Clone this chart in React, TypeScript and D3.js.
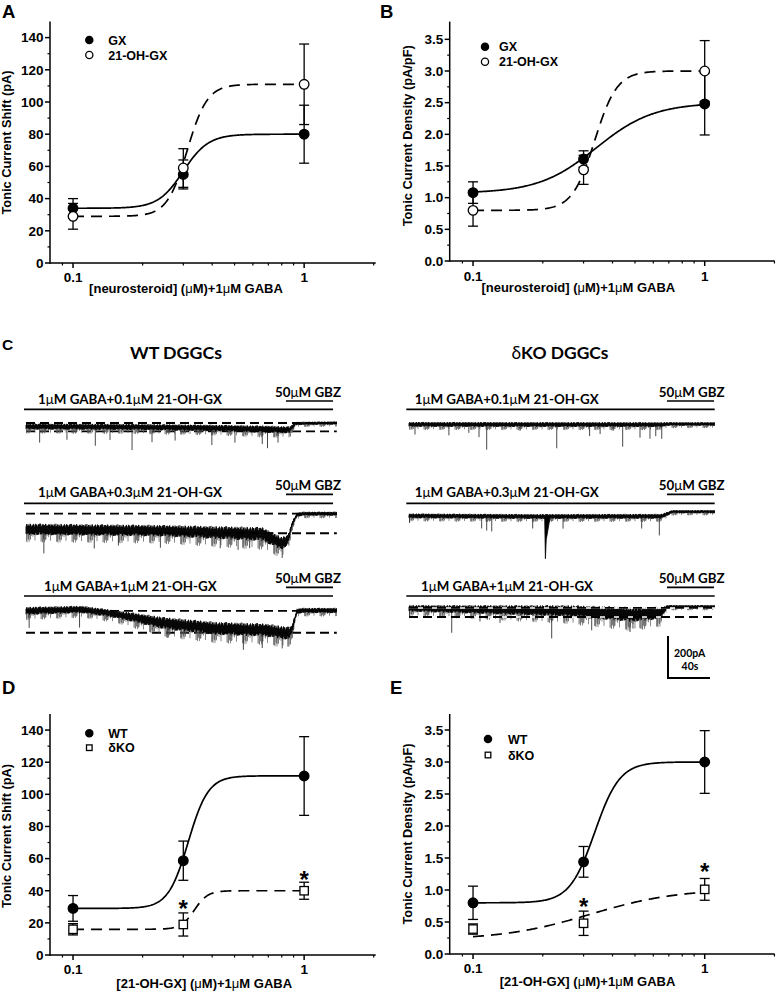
import React from "react";
import * as d3 from "d3";

// ---------------- dose-response data ----------------
const CONC = [0.1, 0.3, 1];

const A_GX_MEAN = [34, 55, 80];
const A_GX_SEM = [6, 9, 18];
const A_OH_MEAN = [29, 59, 111];
const A_OH_SEM = [8, 12, 25];
const A_GX_FIT = [34, 80, 0.3, 8]; // bottom, top, EC50, nH
const A_OH_FIT = [29, 111, 0.312, 10];

const B_GX_MEAN = [1.08, 1.61, 2.48];
const B_GX_SEM = [0.17, 0.13, 0.49];
const B_OH_MEAN = [0.8, 1.44, 3.0];
const B_OH_SEM = [0.25, 0.23, 0.48];
const B_GX_FIT = [1.07, 2.5, 0.34, 3.5];
const B_OH_FIT = [0.8, 3.0, 0.335, 9];

const D_WT_MEAN = [29, 58.7, 111.4];
const D_WT_SEM = [8, 12.2, 24.5];
const D_KO_MEAN = [16, 19, 40];
const D_KO_SEM = [3.5, 7.2, 5.3];
const D_WT_FIT = [29, 111.5, 0.315, 10];
const D_KO_FIT = [16, 40, 0.335, 15];

const E_WT_MEAN = [0.8, 1.44, 3.0];
const E_WT_SEM = [0.26, 0.24, 0.49];
const E_KO_MEAN = [0.39, 0.48, 1.01];
const E_KO_SEM = [0.08, 0.19, 0.17];
const E_WT_FIT = [0.8, 3.0, 0.335, 8];
const E_KO_FIT = [0.22, 1.02, 0.32, 2.3];

const SIG_INDEX = [1, 2]; // asterisks on KO at 0.3 and 1 uM

const SHIFT_TICKS = [0, 20, 40, 60, 80, 100, 120, 140];
const SHIFT_MINOR = [10, 30, 50, 70, 90, 110, 130];
const DENS_TICKS = [0, 0.5, 1, 1.5, 2, 2.5, 3, 3.5];
const DENS_MINOR = [0.25, 0.75, 1.25, 1.75, 2.25, 2.75, 3.25];
const X_TICKS = [0.1, 1];
const X_MINOR = [0.09, 0.2, 0.3, 0.4, 0.5, 0.6, 0.7, 0.8, 0.9, 2];

// ---------------- trace data (time s, current pA, noise pA) ----------------
const TRACE_CONC = ["0.1", "0.3", "1"];

const WT1_BASE = [[0, -17, 15], [100, -19, 15], [180, -24, 16], [230, -30, 18], [251, -33, 17], [257, -2, 8], [296, 0, 8]];
const WT1_SPIKES = [[13, 76], [39, 62], [66, 90], [80, 62], [101, 110], [120, 71], [142, 62], [177, 81], [199, 67], [225, 71], [230, 90], [240, 62]];
const WT1_DASH = [0, -40];

const WT2_BASE = [[0, -74, 28], [128, -81, 28], [225, -97, 34], [243.5, -141, 32], [249.5, -125, 25], [253.5, -50, 15], [258, -5, 10], [264, 0, 10], [296, 0, 10]];
const WT2_SPIKES = [[17, 114], [65, 88], [88, 73], [128, 81], [185, 74], [202, 79], [213, 69], [244, 71]];
const WT2_DASH = [0, -93];

const WT3_BASE = [[0, -2, 20], [53, 5, 18], [85, -17, 19], [132, -61, 30], [180, -85, 32], [228, -93, 32], [250, -109, 32], [253, -95, 25], [258, -4, 13], [263, 0, 13], [296, 0, 13]];
const WT3_SPIKES = [[3, 81], [51, 86], [135, 68], [207, 98], [225, 86], [244, 76], [249.5, 63]];
const WT3_DASH = [-2, -106];

const KO1_BASE = [[0, -2, 12], [240, -3, 12], [246, 0, 9], [291, 0, 9]];
const KO1_SPIKES = [[5.7, 48], [38, 52], [57, 40], [66.7, 60], [74, 120], [105.7, 30], [140.7, 113], [172, 55], [182, 45], [194.3, 30], [203.5, 105], [220, 62], [229.5, 67], [235, 55], [240.7, 68]];
const KO1_DASH: number[] = [];

const KO2_BASE = [[0, -20, 12], [120, -23, 12], [240, -22, 12], [245, -12, 10], [251, 0, 8], [291, 0, 8]];
const KO2_SPIKES = [[0.5, 34], [69.2, 58], [74, 68], [78.8, 72], [117.8, 57], [146.7, 58], [221.6, 58], [238.4, 91]];
const KO2_EVENTS = [[129.5, 201, 5]];
const KO2_DASH: number[] = [];

const KO3_BASE = [[0, -8, 16], [150, -20, 28], [213, -37, 36], [239, -30, 30], [242, -20, 20], [246, 0, 8], [291, 0, 8]];
const KO3_SPIKES = [[0.5, 46], [40.7, 113], [67.6, 57], [86.7, 62], [135.9, 132], [174, 86], [210.5, 84], [213.3, 67], [220, 67]];
const KO3_DASH = [-6, -49];

const SCALE_PA = 200;
const SCALE_S = 40;

// fixed texture pattern for the noise band of the recordings
const TEXTURE = [0.12, 0.83, 0.41, 0.95, 0.27, 0.66, 0.05, 0.74, 0.38, 0.91, 0.19, 0.58, 0.87, 0.33, 0.7, 0.02, 0.49, 0.99, 0.23, 0.61, 0.8, 0.15, 0.45, 0.68, 0.3, 0.93, 0.08, 0.55, 0.77, 0.36, 0.64];

// ---------------- styling ----------------
const FONT = "'Liberation Sans', Arial, Helvetica, sans-serif";
const CFONT = "Lato, 'Open Sans', sans-serif";
const PX_PER_S = 1.05;
const PX_PER_PA = 0.21;

function hill(x: number, p: number[]) {
  const [b, t, e, n] = p;
  return b + (t - b) / (1 + Math.pow(e / x, n));
}

function MuText({ text, ...rest }: any) {
  const parts = text.split("μ");
  const out: any[] = [];
  parts.forEach((p: string, i: number) => {
    if (i > 0) out.push(<tspan key={"m" + i} fontWeight="normal">μ</tspan>);
    out.push(<tspan key={"p" + i}>{p}</tspan>);
  });
  return <text {...rest}>{out}</text>;
}

type Series = { mean: number[]; sem: number[]; shape: string; fit: number[]; dashed: boolean; name: string };

function DoseChart(props: any) {
  const { fr, series, xLabel, yLabel, legend, stars, letter } = props;
  const x = d3.scaleLog().domain(fr.xDomain).range(fr.xRange);
  const y = d3.scaleLinear().domain(fr.yDomain).range(fr.yRange);
  const xAxisY = fr.yRange[0];
  const yAxisX = fr.xRange[0];
  const samples = d3.range(0, 241).map((i) => 0.1 * Math.pow(10, i / 240));
  const sw = 1.5;

  const marker = (s: Series, cx: number, cy: number, r: number, key: string) => {
    if (s.shape === "square")
      return <rect key={key} x={cx - r} y={cy - r} width={2 * r} height={2 * r} fill="#fff" stroke="#000" strokeWidth={1.3} />;
    return <circle key={key} cx={cx} cy={cy} r={r} fill={s.shape === "filled" ? "#000" : "#fff"} stroke="#000" strokeWidth={1.3} />;
  };

  return (
    <g fontFamily={FONT} fontWeight="bold">
      <text x={letter[1]} y={letter[2]} fontSize={18.5}>{letter[0]}</text>
      {/* axes */}
      <line x1={yAxisX} x2={yAxisX} y1={fr.yRange[0] + 0.75} y2={fr.yRange[1]} stroke="#000" strokeWidth={sw} />
      <line x1={yAxisX} x2={fr.xRange[1]} y1={xAxisY} y2={xAxisY} stroke="#000" strokeWidth={sw} />
      {fr.yTicks.map((t: number) => (
        <g key={"yt" + t}>
          <line x1={yAxisX - 5} x2={yAxisX} y1={y(t)} y2={y(t)} stroke="#000" strokeWidth={sw} />
          <text x={yAxisX - 6.5} y={y(t) + 4.8} fontSize={13.5} textAnchor="end">{fr.yFmt(t)}</text>
        </g>
      ))}
      {fr.yMinor.map((t: number) => (
        <line key={"ym" + t} x1={yAxisX - 2.5} x2={yAxisX} y1={y(t)} y2={y(t)} stroke="#000" strokeWidth={1.2} />
      ))}
      {X_TICKS.map((t) => (
        <g key={"xt" + t}>
          <line x1={x(t)} x2={x(t)} y1={xAxisY} y2={xAxisY + 5} stroke="#000" strokeWidth={sw} />
          <text x={x(t)} y={xAxisY + fr.tickDy} fontSize={13.5} textAnchor="middle">{String(t)}</text>
        </g>
      ))}
      {X_MINOR.map((t) => (
        <line key={"xm" + t} x1={x(t)} x2={x(t)} y1={xAxisY} y2={xAxisY + 2.5} stroke="#000" strokeWidth={1.2} />
      ))}
      <MuText text={xLabel} x={fr.xLabelX} y={fr.xLabelY} fontSize={13} textAnchor="middle" />
      <text transform={`translate(${fr.yLabelX},${fr.yLabelY}) rotate(-90)`} fontSize={12.8} textAnchor="middle">{yLabel}</text>
      {/* fits */}
      {series.map((s: Series, i: number) => (
        <path
          key={"fit" + i}
          d={d3.line<number>().x((d) => x(d)).y((d) => y(hill(d, s.fit)))(samples) || ""}
          fill="none"
          stroke="#000"
          strokeWidth={1.7}
          strokeDasharray={s.dashed ? "11,7" : undefined}
        />
      ))}
      {/* error bars */}
      {series.map((s: Series, i: number) =>
        CONC.map((c, j) => {
          const cx = x(c);
          const y1 = y(s.mean[j] - s.sem[j]);
          const y2 = y(s.mean[j] + s.sem[j]);
          return (
            <g key={"eb" + i + "-" + j} stroke="#000" strokeWidth={1.3}>
              <line x1={cx} x2={cx} y1={y1} y2={y2} />
              <line x1={cx - 5} x2={cx + 5} y1={y1} y2={y1} />
              <line x1={cx - 5} x2={cx + 5} y1={y2} y2={y2} />
            </g>
          );
        })
      )}
      {/* markers */}
      {series.map((s: Series, i: number) =>
        CONC.map((c, j) => marker(s, x(c), y(s.mean[j]), s.shape === "square" ? 4.2 : 4.8, "mk" + i + "-" + j))
      )}
      {/* asterisks */}
      {stars &&
        SIG_INDEX.map((j) => {
          const s = series[stars.series];
          const cy = y(s.mean[j] + s.sem[j]) - stars.gap[j === 1 ? 0 : 1];
          return (
            <text key={"st" + j} x={x(CONC[j])} y={cy + 13.4} fontSize={24} textAnchor="middle">*</text>
          );
        })}
      {/* legend */}
      {series.map((s: Series, i: number) => (
        <g key={"lg" + i}>
          {marker(s, legend.mx, legend.ys[i], s.shape === "square" ? 2.8 : 3.6, "lm" + i)}
          <MuText text={s.name} x={legend.tx} y={legend.ys[i] + 4.5} fontSize={12.5} />
        </g>
      ))}
    </g>
  );
}

function Trace(props: any) {
  const { x0, yRef, base, spikes, events, dash, dashOver, tEnd } = props;
  const xs = d3.scaleLinear().domain([0, 1]).range([x0, x0 + PX_PER_S]);
  const ys = d3.scaleLinear().domain([0, 1]).range([yRef, yRef - PX_PER_PA]);
  const cAt = d3.scaleLinear().domain(base.map((d: number[]) => d[0])).range(base.map((d: number[]) => d[1])).clamp(true);
  const nAt = d3.scaleLinear().domain(base.map((d: number[]) => d[0])).range(base.map((d: number[]) => d[2])).clamp(true);
  const xEnd = xs(tEnd);
  const L = TEXTURE.length;
  let core = "";
  let fringe = "";
  let k = 0;
  for (let px = x0; px <= xEnd + 0.01; px += 0.5, k++) {
    const t = xs.invert(px);
    const c = cAt(t);
    const n = nAt(t);
    const up = c + n * (0.45 + 0.55 * TEXTURE[(k * 7) % L]);
    const lo = c - n * (0.45 + 0.55 * TEXTURE[(k * 13 + 5) % L]);
    core += `M${px.toFixed(2)},${ys(up).toFixed(2)}V${ys(lo).toFixed(2)}`;
    if (TEXTURE[(k * 17 + 11) % L] > 0.66) {
      const ext = c - n * (1 + 1.4 * TEXTURE[(k * 5 + 2) % L]);
      fringe += `M${px.toFixed(2)},${ys(lo).toFixed(2)}V${ys(ext).toFixed(2)}`;
    }
  }
  let sp = "";
  spikes.forEach((s: number[]) => {
    const c = cAt(s[0]);
    sp += `M${xs(s[0]).toFixed(2)},${ys(c).toFixed(2)}V${ys(c - s[1]).toFixed(2)}`;
  });
  const dashLines = (over: boolean) =>
    dash.map((lv: number, i: number) => (
      <g key={"d" + i}>
        {over && <line x1={x0} x2={xEnd} y1={ys(lv)} y2={ys(lv)} stroke="#fff" strokeWidth={1.6} />}
        <line x1={x0} x2={xEnd} y1={ys(lv)} y2={ys(lv)} stroke="#000" strokeWidth={1.8} strokeDasharray="9,5" />
      </g>
    ));
  return (
    <g>
      {!dashOver && dashLines(false)}
      <path d={fringe} stroke="#555" strokeWidth={0.7} fill="none" />
      <path d={sp} stroke="#333" strokeWidth={0.9} fill="none" />
      <path d={core} stroke="#000" strokeWidth={0.9} fill="none" />
      {(events || []).map((e: number[], i: number) => {
        const c = cAt(e[0]);
        const d = `M${xs(e[0] - 0.3)},${ys(c)}L${xs(e[0] + 0.4)},${ys(c - e[1])}L${xs(e[0] + 1.2)},${ys(c - e[1] * 0.55)}L${xs(e[0] + e[2])},${ys(c)}Z`;
        return <path key={"ev" + i} d={d} fill="#000" stroke="#000" strokeWidth={0.8} />;
      })}
      {dashOver && dashLines(true)}
    </g>
  );
}

function RowHeader(props: any) {
  const { lineX0, lineX1, lineY, label, labelX, labelY, labelLen, gbzX, gbzY, gbzLineX0, gbzLineX1, gbzLineY } = props;
  return (
    <g fontFamily={CFONT} fontWeight="bold">
      <MuText text={label} x={labelX} y={labelY} fontSize={12.8} textLength={labelLen} lengthAdjust="spacingAndGlyphs" />
      <line x1={lineX0} x2={lineX1} y1={lineY} y2={lineY} stroke="#000" strokeWidth={1.7} />
      <MuText text={"50μM GBZ"} x={gbzX} y={gbzY} fontSize={12.8} textLength={66} lengthAdjust="spacingAndGlyphs" />
      <line x1={gbzLineX0} x2={gbzLineX1} y1={gbzLineY} y2={gbzLineY} stroke="#000" strokeWidth={1.7} />
    </g>
  );
}

export default function App() {
  const shiftFmt = (t: number) => String(t);
  const densFmt = (t: number) => t.toFixed(1);
  const frA = { xDomain: [0.0795, 2.04], xRange: [50, 375.7], yDomain: [0, 150], yRange: [263, 21.5], yTicks: SHIFT_TICKS, yMinor: SHIFT_MINOR, yFmt: shiftFmt, tickDy: 18.7, xLabelX: 186, xLabelY: 293, yLabelX: 10.5, yLabelY: 142.5 };
  const frB = { xDomain: [0.0793, 2.005], xRange: [449.7, 774.7], yDomain: [0, 3.78], yRange: [261, 21.6], yTicks: DENS_TICKS, yMinor: DENS_MINOR, yFmt: densFmt, tickDy: 20, xLabelX: 578.3, xLabelY: 291.5, yLabelX: 412, yLabelY: 135.8 };
  const frD = { xDomain: [0.0795, 2.04], xRange: [50, 375.7], yDomain: [0, 150], yRange: [955, 714], yTicks: SHIFT_TICKS, yMinor: SHIFT_MINOR, yFmt: shiftFmt, tickDy: 19, xLabelX: 204.2, xLabelY: 987.5, yLabelX: 10.5, yLabelY: 836 };
  const frE = { xDomain: [0.0793, 2.005], xRange: [449.7, 774.7], yDomain: [0, 3.75], yRange: [954, 714], yTicks: DENS_TICKS, yMinor: DENS_MINOR, yFmt: densFmt, tickDy: 19.3, xLabelX: 587.5, xLabelY: 985.5, yLabelX: 412, yLabelY: 834 };

  const seriesA: Series[] = [
    { mean: A_GX_MEAN, sem: A_GX_SEM, shape: "filled", fit: A_GX_FIT, dashed: false, name: "GX" },
    { mean: A_OH_MEAN, sem: A_OH_SEM, shape: "open", fit: A_OH_FIT, dashed: true, name: "21-OH-GX" },
  ];
  const seriesB: Series[] = [
    { mean: B_GX_MEAN, sem: B_GX_SEM, shape: "filled", fit: B_GX_FIT, dashed: false, name: "GX" },
    { mean: B_OH_MEAN, sem: B_OH_SEM, shape: "open", fit: B_OH_FIT, dashed: true, name: "21-OH-GX" },
  ];
  const seriesD: Series[] = [
    { mean: D_WT_MEAN, sem: D_WT_SEM, shape: "filled", fit: D_WT_FIT, dashed: false, name: "WT" },
    { mean: D_KO_MEAN, sem: D_KO_SEM, shape: "square", fit: D_KO_FIT, dashed: true, name: "δKO" },
  ];
  const seriesE: Series[] = [
    { mean: E_WT_MEAN, sem: E_WT_SEM, shape: "filled", fit: E_WT_FIT, dashed: false, name: "WT" },
    { mean: E_KO_MEAN, sem: E_KO_SEM, shape: "square", fit: E_KO_FIT, dashed: true, name: "δKO" },
  ];

  const wtTraces = [
    { yRef: 423, base: WT1_BASE, spikes: WT1_SPIKES, dash: WT1_DASH, dashOver: false },
    { yRef: 513.7, base: WT2_BASE, spikes: WT2_SPIKES, dash: WT2_DASH, dashOver: false },
    { yRef: 610.5, base: WT3_BASE, spikes: WT3_SPIKES, dash: WT3_DASH, dashOver: false },
  ];
  const koTraces = [
    { yRef: 424, base: KO1_BASE, spikes: KO1_SPIKES, dash: KO1_DASH, dashOver: false },
    { yRef: 511.7, base: KO2_BASE, spikes: KO2_SPIKES, dash: KO2_DASH, dashOver: false, events: KO2_EVENTS },
    { yRef: 606.7, base: KO3_BASE, spikes: KO3_SPIKES, dash: KO3_DASH, dashOver: true },
  ];
  const rowLineY = [409.3, 503.3, 596];
  const rowLabelY = [403.5, 497, 591];
  const gbzY = [397, 490, 583];
  const gbzLineY = [401, 494.3, 587.3];

  const sbX = 668;
  const sbY = 678;

  return (
    <svg width={777} height={992} style={{ position: "absolute", left: 0, top: 0, background: "#fff" }}>
      <rect width={777} height={992} fill="#fff" />
      <DoseChart fr={frA} series={seriesA} letter={["A", 2, 18]} xLabel="[neurosteroid] (μM)+1μM GABA" yLabel="Tonic Current Shift (pA)" legend={{ mx: 89.3, tx: 108.3, ys: [40, 55] }} />
      <DoseChart fr={frB} series={seriesB} letter={["B", 380, 18]} xLabel="[neurosteroid] (μM)+1μM GABA" yLabel="Tonic Current Density (pA/pF)" legend={{ mx: 485, tx: 499, ys: [46.7, 61.7] }} />
      <DoseChart fr={frD} series={seriesD} letter={["D", 2, 694]} xLabel="[21-OH-GX] (μM)+1μM GABA" yLabel="Tonic Current Shift (pA)" legend={{ mx: 89.3, tx: 108.3, ys: [733.3, 747.7] }} stars={{ series: 1, gap: [9.5, 7.5] }} />
      <DoseChart fr={frE} series={seriesE} letter={["E", 390, 694]} xLabel="[21-OH-GX] (μM)+1μM GABA" yLabel="Tonic Current Density (pA/pF)" legend={{ mx: 488, tx: 508, ys: [739, 755] }} stars={{ series: 1, gap: [10, 12] }} />

      {/* Panel C */}
      <text x={2} y={350} fontFamily={FONT} fontWeight="bold" fontSize={15.5}>C</text>
      <text x={176} y={359} fontFamily={CFONT} fontWeight="bold" fontSize={17.5} textAnchor="middle" textLength={92} lengthAdjust="spacingAndGlyphs">WT DGGCs</text>
      <text x={560} y={359} fontFamily={CFONT} fontWeight="bold" fontSize={17.5} textAnchor="middle" textLength={97} lengthAdjust="spacingAndGlyphs">
        <tspan fontWeight="normal">δ</tspan>KO DGGCs
      </text>

      {TRACE_CONC.map((c, i) => (
        <RowHeader
          key={"wth" + i}
          lineX0={24}
          lineX1={333}
          lineY={rowLineY[i]}
          label={`1μM GABA+${c}μM 21-OH-GX`}
          labelX={i === 2 ? 44 : 38}
          labelY={rowLabelY[i]}
          labelLen={i === 2 ? 172.7 : 184}
          gbzX={275}
          gbzY={gbzY[i]}
          gbzLineX0={286}
          gbzLineX1={333}
          gbzLineY={gbzLineY[i]}
        />
      ))}
      {TRACE_CONC.map((c, i) => (
        <RowHeader
          key={"koh" + i}
          lineX0={406.3}
          lineX1={714.7}
          lineY={rowLineY[i]}
          label={`1μM GABA+${c}μM 21-OH-GX`}
          labelX={i === 2 ? 421 : 414.7}
          labelY={rowLabelY[i] + 0.3}
          labelLen={i === 2 ? 172 : 184}
          gbzX={658.7}
          gbzY={gbzY[i] - 0.5}
          gbzLineX0={667}
          gbzLineX1={714}
          gbzLineY={gbzLineY[i]}
        />
      ))}
      {wtTraces.map((t, i) => (
        <Trace key={"wt" + i} x0={26} tEnd={296} {...t} />
      ))}
      {koTraces.map((t, i) => (
        <Trace key={"ko" + i} x0={409} tEnd={291.4} {...t} />
      ))}

      {/* scale bar */}
      <path d={`M${sbX},${sbY - SCALE_PA * PX_PER_PA}V${sbY}H${sbX + SCALE_S * PX_PER_S}`} fill="none" stroke="#000" strokeWidth={2} />
      <text x={689.7} y={656.5} fontFamily={CFONT} fontWeight="bold" fontSize={10.5} textAnchor="middle">{SCALE_PA}pA</text>
      <text x={690} y={669.5} fontFamily={CFONT} fontWeight="bold" fontSize={10.5} textAnchor="middle">{SCALE_S}s</text>
    </svg>
  );
}
